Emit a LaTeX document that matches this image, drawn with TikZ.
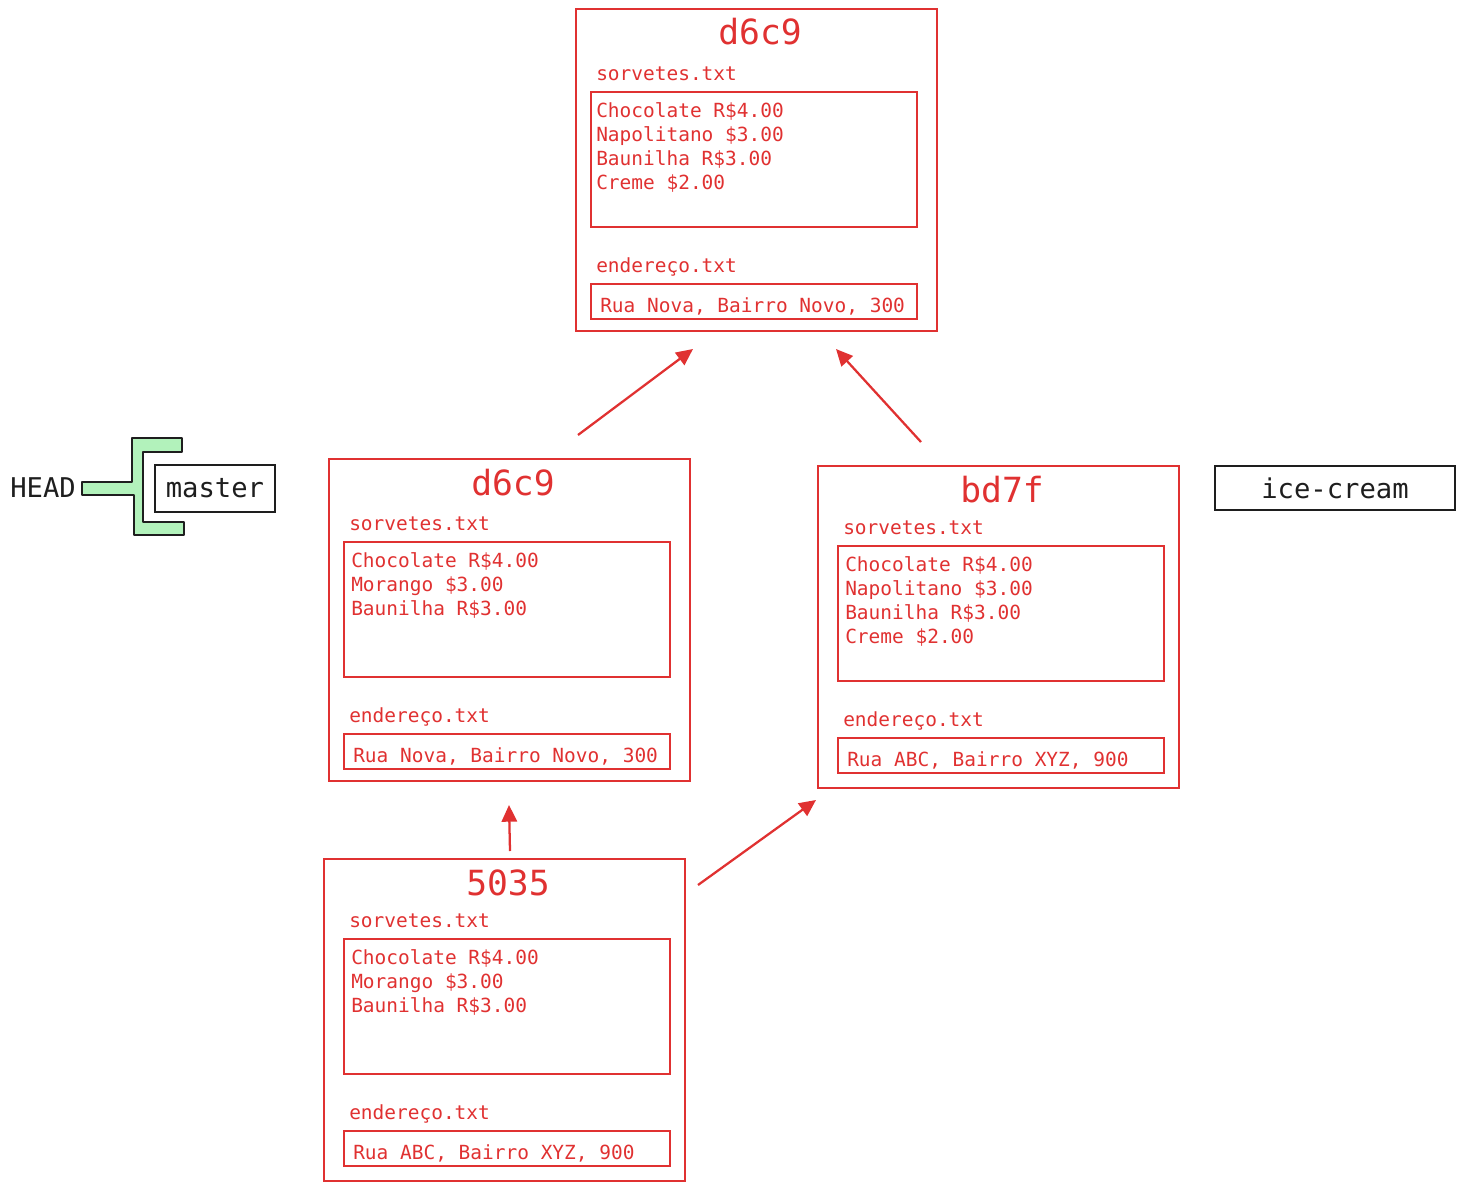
\documentclass[tikz,border=0pt]{standalone}
\usepackage{fontspec}
\setmonofont{DejaVu Sans Mono}
\usetikzlibrary{arrows.meta}
\definecolor{cred}{HTML}{E03131}
\definecolor{cgreen}{HTML}{B2F2BB}
\definecolor{cblack}{HTML}{1E1E1E}
\tikzset{
 outerbox/.style={draw=cred, line width=1.5pt, minimum width=270.75pt, minimum height=241.5pt, inner sep=0pt, outer sep=0pt, anchor=north west},
 filebox/.style={draw=cred, line width=1.5pt, minimum width=244.5pt, inner sep=0pt, outer sep=0pt, anchor=north west},
 ctitle/.style={text=cred, font=\ttfamily\fontsize{26}{30}\selectfont, anchor=base, inner sep=0pt},
 ftext/.style={text=cred, font=\ttfamily\fontsize{14.6}{17}\selectfont, anchor=base west, inner sep=0pt},
 btext/.style={text=cblack, font=\ttfamily\fontsize{20.4}{24}\selectfont, inner sep=0pt},
 refbox/.style={draw=cblack, line width=1.5pt, inner sep=0pt, outer sep=0pt, anchor=north west},
 arr/.style={draw=cred, line width=1.7pt, -{Triangle[length=12.5pt,width=11.5pt]}},
}
\newcommand\commitbox[9]{%
 \node[outerbox] (#1) at (#2,#3) {};
 \node[ctitle] (#1t) at (#2+184,#3+36) {#6};
 \begin{scope}[shift={(#4,#5)}]
  \node[ftext] (#1sl) at (20,71) {sorvetes.txt};
  \node[filebox, minimum height=101.25pt] (#1sb) at (15,83) {};
  \foreach \t [count=\i from 0] in {#7} {\node[ftext] (#1l\i) at (20+#9,108+24*\i) {\t};}
  \node[ftext] (#1el) at (20,263) {endereço.txt};
  \node[filebox, minimum height=26.25pt] (#1eb) at (15,275) {};
  \node[ftext] (#1a) at (24,303) {#8};
 \end{scope}}
\begin{document}
\begin{tikzpicture}[x=0.75pt,y=-0.75pt]
\useasboundingbox (0,0) rectangle (1465,1192);
\commitbox{top}{576}{9}{576}{9}{d6c9}{Chocolate R\$4.00,Napolitano \$3.00,Baunilha R\$3.00,Creme \$2.00}{Rua Nova, Bairro Novo, 300}{0}
\commitbox{ml}{329}{459}{329}{459}{d6c9}{Chocolate R\$4.00,Morango \$3.00,Baunilha R\$3.00}{Rua Nova, Bairro Novo, 300}{2}
\commitbox{rt}{818}{466}{823}{463}{bd7f}{Chocolate R\$4.00,Napolitano \$3.00,Baunilha R\$3.00,Creme \$2.00}{Rua ABC, Bairro XYZ, 900}{2}
\commitbox{bt}{324}{859}{329}{856}{5035}{Chocolate R\$4.00,Morango \$3.00,Baunilha R\$3.00}{Rua ABC, Bairro XYZ, 900}{2}
% arrows
\draw[arr] ([shift={(249,-24)}]ml.north west) -- ([shift={(117,18)}]top.south west);
\draw[arr] ([shift={(103,-24)}]rt.north west) -- ([shift={(260,18)}]top.south west);
\draw[arr] ([shift={(186,-8)}]bt.north west) -- ([shift={(180,24)}]ml.south west);
\draw[arr] ([shift={(374,26)}]bt.north west) -- ([shift={(-2,12)}]rt.south west);
% HEAD and branches
\draw[draw=cblack, fill=cgreen, line width=0.8pt, line join=round] (82,482) -- (132,482) -- (132,438) -- (182,438) -- (182,452) -- (143,452) -- (143,522) -- (184,522) -- (184,535) -- (134,535) -- (134,495) -- (82,495) -- cycle;
\node[btext, anchor=base west] (head) at (10,497) {HEAD};
\node[refbox, minimum width=90pt, minimum height=35.25pt] (masterb) at (155,465) {};
\node[btext, anchor=base] (master) at (215,497) {master};
\node[refbox, minimum width=180pt, minimum height=33pt] (icb) at (1215,466) {};
\node[btext, anchor=base] (ice) at (1335,498) {ice-cream};
\end{tikzpicture}
\end{document}
